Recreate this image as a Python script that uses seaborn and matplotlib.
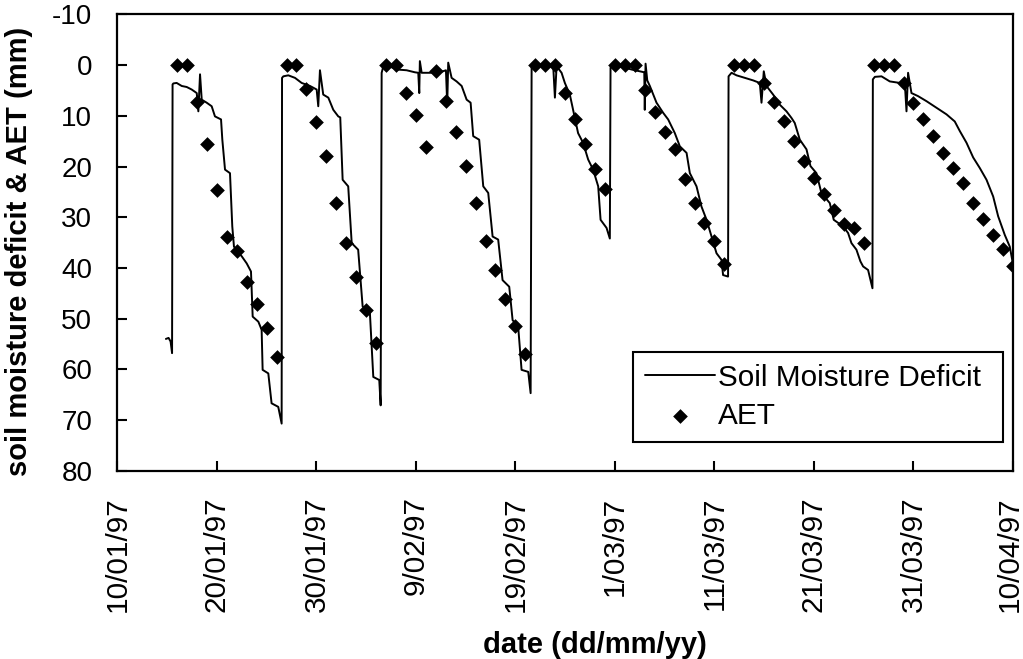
import numpy as np
import pandas as pd
import matplotlib
matplotlib.use("Agg")
import matplotlib.pyplot as plt
import matplotlib.dates as mdates
import matplotlib.transforms as mtransforms
import seaborn as sns

# ---------------- data ----------------
start_date = "1997-01-10"
end_date = "1997-04-10"

# Soil moisture deficit trace: days after 10/01/97, deficit in mm
smd_day = [
    4.88, 5.15, 5.35, 5.50,
    5.55, 5.63, 5.96, 6.47, 6.97, 7.47, 7.98, 8.14, 8.31, 8.48, 8.98, 9.48, 9.81, 10.42, 10.55, 10.82,
    11.32, 11.55, 11.72, 12.50, 13.00, 13.43, 13.60, 14.17, 14.50, 14.60, 15.17, 15.50, 16.17, 16.51,
    16.55, 16.68, 17.18, 17.85, 18.52, 19.36, 20.03, 20.19, 20.36, 20.69, 21.20, 21.70, 22.20, 22.40,
    22.64, 23.20, 23.55, 24.20, 24.65, 25.38, 25.72, 26.32, 26.46,
    26.56, 26.72, 27.22, 28.07, 29.07, 29.90, 30.24, 30.34, 30.40, 30.58, 31.41, 32.42, 33.02, 33.15,
    33.25, 33.59, 34.09, 34.60, 35.10, 35.50, 35.76, 36.36, 36.77, 37.27, 37.71, 38.27, 38.71, 39.38,
    39.72, 40.28, 40.62, 41.29, 41.53,
    41.63, 42.13, 43.13, 43.80, 43.97, 44.14, 44.64, 44.97, 45.47, 45.80, 46.30, 46.80, 47.31, 47.81,
    48.32, 48.56, 49.16, 49.49,
    49.56, 49.99, 50.67, 51.67, 52.50, 52.95, 53.00, 53.08, 53.25, 53.51, 54.18, 54.85, 55.35, 56.02,
    56.52, 57.20, 57.53, 58.20, 58.70, 59.21, 59.71, 60.21, 60.71, 60.87, 61.37,
    61.42, 61.72, 62.22, 63.05, 63.89, 64.56, 64.73, 64.96, 65.23, 65.90, 66.57, 67.24, 67.74, 68.07,
    68.58, 69.25, 69.65, 70.25, 70.75, 71.59, 71.99, 72.93, 73.43, 73.77, 74.27, 74.67, 74.94, 75.44, 75.88,
    75.92, 76.12, 76.79, 77.62, 78.63, 79.13, 79.30, 79.46, 79.80, 80.46, 81.31, 82.31, 83.32, 84.15,
    84.66, 85.33, 86.00, 86.67, 87.34, 88.01, 88.51, 89.18, 89.68, 89.95,
]
smd_mm = [
    54.0, 53.8, 54.5, 56.8,
    3.8, 3.6, 3.5, 4.1, 4.3, 4.8, 5.5, 9.1, 1.8, 6.8, 7.4, 8.1, 10.1, 10.7, 14.7, 20.6,
    21.3, 31.8, 35.8, 37.7, 39.1, 40.7, 49.6, 50.6, 52.2, 60.1, 60.8, 66.7, 67.4, 70.7,
    2.5, 2.2, 2.0, 2.5, 3.5, 4.1, 4.8, 8.1, 1.0, 5.8, 6.4, 8.8, 10.1, 10.3,
    22.6, 23.9, 35.1, 36.4, 47.6, 48.9, 61.5, 62.1, 67.1,
    1.5, 0.3, 0.1, 0.85, 1.0, 1.4, 1.5, 5.5, -0.8, 1.5, 1.5, 1.4, 1.0, 7.8,
    -0.5, 2.5, 3.2, 4.1, 6.8, 7.4, 14.0, 14.7, 23.9, 25.2, 33.8, 34.4, 42.4, 43.7,
    50.3, 51.6, 60.1, 60.5, 64.7,
    0.2, -0.1, 0.2, 0.2, 6.4, 0.2, 1.5, 3.5, 5.8, 8.8, 13.4, 15.3, 18.6, 20.6,
    23.9, 30.5, 32.1, 34.2,
    0.5, 0.2, 0.3, 0.85, 1.2, 1.4, 8.8, -0.3, 3.0, 4.1, 7.4, 9.4, 10.7, 13.4,
    16.0, 17.3, 21.3, 23.9, 27.9, 30.5, 33.8, 37.1, 38.4, 41.4, 41.7,
    2.2, 1.5, 2.0, 2.5, 3.0, 3.5, 7.4, 1.2, 4.1, 5.8, 7.8, 9.1, 10.4, 11.4,
    14.7, 16.6, 19.9, 21.3, 25.2, 27.2, 30.5, 31.8, 33.1, 35.1, 36.4, 38.7, 39.7, 40.4, 44.0,
    2.8, 2.3, 2.2, 3.2, 3.5, 3.5, 9.1, 1.5, 5.5, 6.1, 7.1, 8.4, 9.7, 11.1,
    13.0, 15.3, 18.2, 20.3, 22.6, 25.9, 29.8, 33.5, 35.8, 38.7,
]

# Daily AET (mm), one value per day from 16/01/97 to 10/04/97
aet_start = "1997-01-16"
aet_mm = [
    0, 0, 7.2, 15.5, 24.7, 33.9, 36.7, 42.7, 47.1, 51.9, 57.5,
    0, 0, 4.7, 11.2, 18.0, 27.1, 35.0, 41.7, 48.3, 54.8,
    0, 0, 5.5, 9.9, 16.2, 1.2, 7.1, 13.2, 19.9, 27.2, 34.7, 40.5, 46.2, 51.5, 57.0,
    0, 0, 0, 5.5, 10.6, 15.6, 20.4, 24.5,
    0, 0, 0, 4.8, 9.3, 13.2, 16.6, 22.4, 27.1, 31.1, 34.7, 39.3,
    0, 0, 0, 3.5, 7.3, 11.0, 15.0, 18.9, 22.2, 25.5, 28.5, 31.4, 32.1, 35.0,
    0, 0, 0, 3.5, 7.4, 10.7, 14.0, 17.3, 20.2, 23.2, 27.1, 30.4, 33.4, 36.3, 39.6,
]

xtick_labels = ["10/01/97", "20/01/97", "30/01/97", "9/02/97", "19/02/97",
                "1/03/97", "11/03/97", "21/03/97", "31/03/97", "10/04/97"]
ytick_values = [-10, 0, 10, 20, 30, 40, 50, 60, 70, 80]

# ---------------- frames ----------------
t0 = pd.Timestamp(start_date)
smd_df = pd.DataFrame({"date": t0 + pd.to_timedelta(smd_day, unit="D"), "smd": smd_mm})
aet_df = pd.DataFrame({"date": pd.date_range(aet_start, periods=len(aet_mm), freq="D"), "aet": aet_mm})

# ---------------- plot ----------------
sns.set_theme(style="white")
plt.rcParams["font.family"] = ["Liberation Sans", "DejaVu Sans"]

fig = plt.figure(figsize=(10.23, 6.59), dpi=100)
ax = fig.add_axes([0.1147, 0.2857, 0.8755, 0.6923])

sns.lineplot(data=smd_df, x="date", y="smd", color="black", linewidth=1.4,
             estimator=None, sort=False, label="Soil Moisture Deficit", ax=ax)
sns.scatterplot(data=aet_df, x="date", y="aet", color="black", marker="D", s=56,
                linewidth=0, label="AET", ax=ax, zorder=3)

ax.set_ylim(80, -10)
ax.set_yticks(ytick_values)
ax.set_yticklabels([str(v) for v in ytick_values])

ax.set_xlim(mdates.date2num(t0), mdates.date2num(pd.Timestamp(end_date)))
tick_dates = pd.date_range(start_date, periods=len(xtick_labels), freq="10D")
ax.set_xticks(mdates.date2num(tick_dates))
ax.set_xticklabels(xtick_labels, rotation=90)

ax.tick_params(axis="both", which="major", direction="in", length=7, width=1.5,
               colors="black", bottom=True, left=True)
ax.tick_params(axis="y", pad=18, labelsize=20)
ax.tick_params(axis="x", pad=18.5, labelsize=21.4)

# keep the last date label just inside the canvas
last = ax.get_xticklabels()[-1]
last.set_transform(last.get_transform()
                   + mtransforms.ScaledTranslation(-2 / 72, 0, fig.dpi_scale_trans))

for sp in ax.spines.values():
    sp.set_color("black")
    sp.set_linewidth(1.6)

ax.set_xlabel("date (dd/mm/yy)", fontsize=21, fontweight="bold", color="black")
ax.set_ylabel("soil moisture deficit & AET (mm)", fontsize=21, fontweight="bold", color="black")
ax.xaxis.label.set_va("center")
ax.yaxis.label.set_va("center")
ax.xaxis.set_label_coords(0.533, -0.382)
ax.yaxis.set_label_coords(-0.1097, 0.48)

leg = ax.legend(loc="lower left", bbox_to_anchor=(0.5756, 0.063, 0.413, 0.195),
                mode="expand", borderaxespad=0,
                fontsize=21.4, frameon=True, fancybox=False, edgecolor="black",
                framealpha=1, handlelength=2.35, handletextpad=0.1,
                borderpad=0.4, labelspacing=0.35)
leg.get_frame().set_linewidth(1.5)
for t in leg.get_texts():
    t.set_color("black")

fig.savefig("out.png", dpi=100, facecolor="white")
